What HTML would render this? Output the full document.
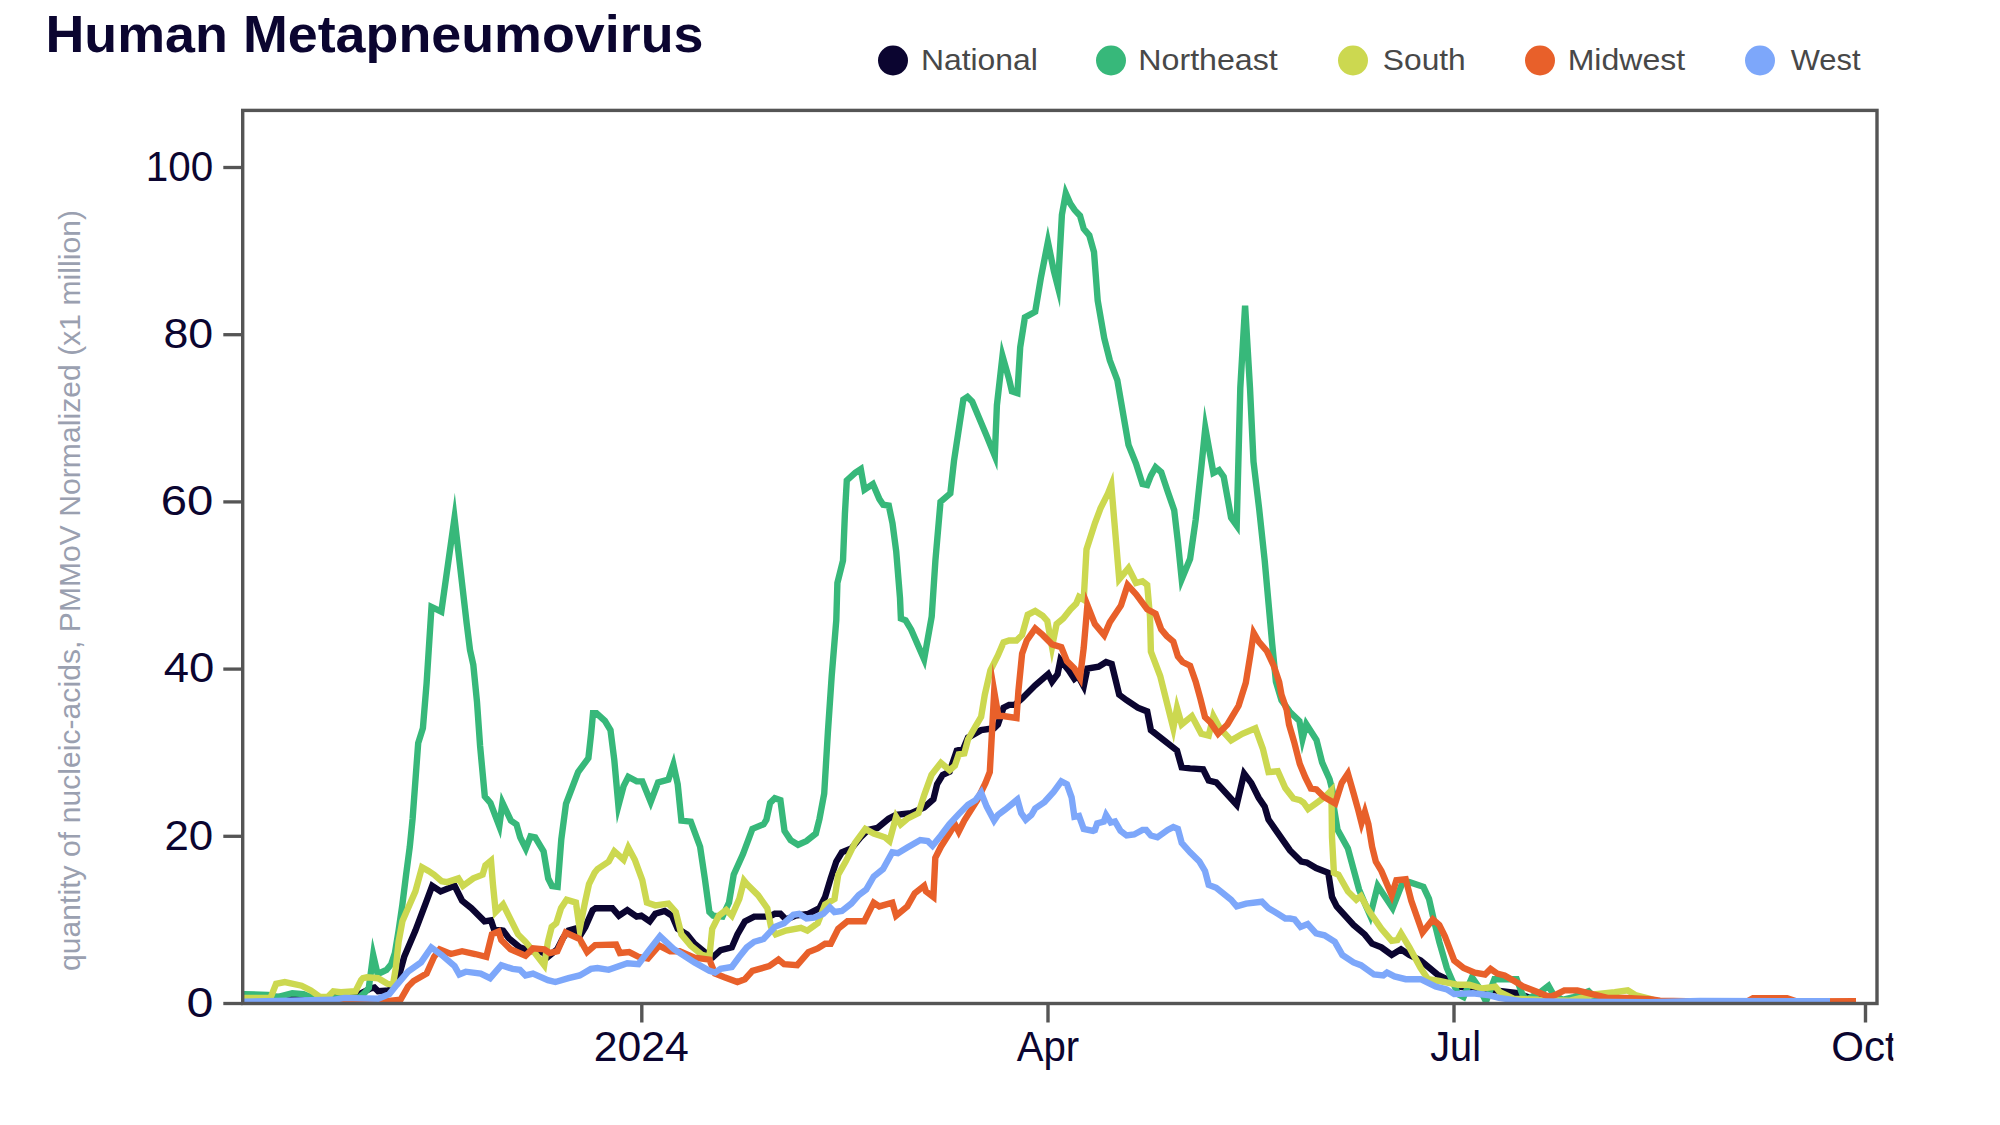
<!DOCTYPE html>
<html><head><meta charset="utf-8"><title>Human Metapneumovirus</title>
<style>
html,body{margin:0;padding:0;background:#fff;}
body{width:2000px;height:1125px;overflow:hidden;font-family:"Liberation Sans",sans-serif;}
svg{display:block;position:absolute;left:0;top:0;}
svg text{font-family:"Liberation Sans",sans-serif;}
</style></head><body>
<svg width="2000" height="1125" viewBox="0 0 2000 1125">
<defs><clipPath id="cp"><rect x="243" y="110" width="1634" height="894"/></clipPath><clipPath id="cs"><rect x="0" y="0" width="1893.3" height="1125"/></clipPath></defs>
<text x="45.51" y="52.0" font-size="51.6" fill="#0b0530" textLength="657.98" lengthAdjust="spacingAndGlyphs" font-weight="bold">Human Metapneumovirus</text>

<circle cx="893" cy="60.5" r="15" fill="#0b0530"/><text x="920.93" y="70.0" font-size="30" fill="#484848" textLength="116.92" lengthAdjust="spacingAndGlyphs">National</text>
<circle cx="1111" cy="60.5" r="15" fill="#37b87a"/><text x="1138.30" y="70.0" font-size="30" fill="#484848" textLength="139.51" lengthAdjust="spacingAndGlyphs">Northeast</text>
<circle cx="1353" cy="60.5" r="15" fill="#ccd850"/><text x="1382.88" y="70.0" font-size="30" fill="#484848" textLength="82.85" lengthAdjust="spacingAndGlyphs">South</text>
<circle cx="1540" cy="60.5" r="15" fill="#e8602a"/><text x="1567.70" y="70.0" font-size="30" fill="#484848" textLength="117.43" lengthAdjust="spacingAndGlyphs">Midwest</text>
<circle cx="1760" cy="60.5" r="15" fill="#7da7fa"/><text x="1790.69" y="70.0" font-size="30" fill="#484848" textLength="69.84" lengthAdjust="spacingAndGlyphs">West</text>

<text transform="translate(79.5,971) rotate(-90)" font-size="30" fill="#9aa0b0" textLength="761" lengthAdjust="spacing">quantity of nucleic-acids, PMMoV Normalized (x1 million)</text>
<g clip-path="url(#cp)">
<path d="M243.7,1000.7 L277.3,997.0 L314.7,999.8 L359.4,994.1 L370.6,988.5 L374.4,987.6 L378.1,991.3 L389.3,990.4 L398.6,977.3 L404.2,956.8 L415.4,930.6 L426.6,900.8 L432.2,885.8 L440.6,891.4 L454.6,885.8 L462.1,900.8 L471.4,908.2 L484.5,921.3 L491.0,920.4 L493.8,928.8 L503.1,930.6 L508.7,938.1 L519.9,947.4 L531.1,951.2 L542.3,952.1 L547.9,956.8 L557.3,949.3 L562.9,938.1 L568.5,930.6 L575.0,928.8 L579.7,936.2 L585.3,926.9 L592.7,910.1 L595.6,908.2 L612.4,908.2 L618.9,915.7 L627.3,910.1 L636.7,916.6 L641.3,915.7 L649.7,921.3 L655.3,913.8 L664.7,911.0 L672.1,915.7 L677.7,928.8 L687.0,934.4 L694.5,943.7 L705.7,953.0 L713.2,956.8 L720.6,950.2 L731.8,947.4 L737.4,934.4 L744.9,921.3 L754.2,916.6 L769.2,916.6 L774.8,913.8 L780.4,913.8 L786.0,919.4 L795.3,915.7 L808.4,913.8 L819.5,908.2 L825.1,897.0 L830.7,878.4 L836.3,861.6 L841.9,852.3 L851.3,848.5 L860.6,837.3 L868.1,829.9 L877.4,828.0 L888.6,818.7 L896.1,814.9 L911.0,813.1 L924.1,807.5 L933.4,799.2 L937.1,784.2 L942.7,774.9 L949.6,771.7 L956.8,750.6 L963.3,748.8 L968.0,737.6 L981.1,730.1 L994.1,728.2 L997.9,724.5 L1003.5,707.7 L1009.1,704.9 L1014.7,704.9 L1022.1,698.4 L1035.2,685.3 L1048.2,674.1 L1052.0,681.6 L1057.6,674.1 L1060.4,660.1 L1068.8,670.4 L1074.4,678.8 L1078.1,676.0 L1083.7,686.3 L1087.4,668.5 L1098.6,666.7 L1106.1,662.0 L1111.7,663.9 L1119.2,694.7 L1126.6,700.2 L1137.8,707.7 L1147.2,711.4 L1150.9,730.1 L1177.0,750.6 L1181.7,767.4 L1190.1,768.4 L1203.1,769.3 L1208.7,780.5 L1216.2,782.4 L1236.7,804.8 L1244.1,773.5 L1251.2,782.9 L1258.7,797.8 L1264.7,806.6 L1268.5,819.7 L1290.0,850.4 L1301.2,861.6 L1306.8,862.5 L1316.1,868.1 L1328.3,872.8 L1332.0,897.0 L1336.7,906.4 L1353.5,925.0 L1364.7,934.4 L1372.1,943.7 L1381.4,947.4 L1391.7,954.9 L1401.0,949.3 L1409.4,954.9 L1420.6,960.5 L1437.4,974.5 L1448.6,980.1 L1458.0,986.6 L1495.3,990.4 L1517.7,993.2 L1532.6,998.8 L1569.9,1001.1 L1600.0,1002.5 L1856.0,1002.5" fill="none" stroke="#0b0530" stroke-width="6.4" stroke-linejoin="miter" stroke-miterlimit="12"/>
<path d="M243.7,994.1 L268.0,995.0 L277.3,997.0 L292.3,993.2 L303.5,994.1 L314.7,998.8 L359.4,997.5 L364.5,993.0 L368.8,988.0 L373.2,955.0 L377.6,974.0 L382.0,972.0 L386.5,970.0 L391.2,964.2 L394.9,953.0 L398.6,930.6 L402.4,904.5 L406.1,874.7 L409.8,846.7 L412.6,818.7 L416.4,767.3 L418.2,743.0 L422.9,728.1 L426.6,683.3 L431.5,606.9 L441.3,611.6 L454.5,518.0 L466.7,623.6 L470.0,650.0 L473.3,664.7 L477.0,702.0 L480.1,746.0 L484.8,796.4 L490.4,802.9 L499.3,826.2 L502.5,802.9 L510.9,820.6 L516.5,824.4 L520.2,837.4 L525.8,848.6 L530.5,836.5 L535.2,837.4 L543.6,851.4 L548.2,878.5 L552.0,886.0 L557.6,886.9 L561.3,839.3 L566.0,803.8 L578.1,772.1 L588.4,758.1 L591.2,732.9 L593.0,713.3 L596.5,713.3 L604.9,720.8 L610.5,730.1 L614.3,760.0 L618.4,805.7 L623.6,786.1 L628.3,776.8 L636.7,781.4 L642.3,781.4 L650.7,802.0 L658.1,782.4 L668.4,779.6 L673.4,764.6 L677.7,784.2 L681.4,820.6 L690.8,821.6 L700.1,846.7 L704.8,878.4 L709.4,912.0 L713.2,915.7 L722.5,916.6 L729.0,902.6 L733.7,874.7 L743.0,854.1 L752.4,828.9 L763.6,824.3 L766.4,819.7 L770.1,802.9 L774.8,798.2 L780.4,800.1 L784.5,830.9 L790.6,840.1 L798.1,844.8 L806.5,841.1 L815.8,833.6 L819.5,818.7 L824.2,793.6 L827.9,732.0 L831.7,676.0 L836.3,620.0 L837.4,583.0 L843.0,560.6 L844.9,514.0 L846.8,480.4 L855.2,472.9 L860.8,469.2 L864.5,489.7 L872.9,484.1 L879.4,499.1 L883.2,504.7 L888.8,505.6 L892.5,523.3 L896.2,551.3 L900.0,598.0 L900.9,618.5 L905.6,620.4 L911.2,629.7 L924.1,659.2 L931.7,616.6 L935.4,560.6 L940.5,501.9 L950.3,493.5 L954.0,460.8 L963.3,399.7 L967.5,396.9 L972.2,401.6 L986.7,436.1 L994.8,456.0 L996.9,405.3 L1002.5,355.9 L1009.1,379.2 L1011.9,391.3 L1017.4,393.2 L1020.2,347.3 L1024.9,317.4 L1035.2,311.8 L1040.8,278.2 L1047.9,241.9 L1053.8,270.8 L1057.9,286.8 L1061.9,214.8 L1065.8,193.3 L1070.3,203.6 L1074.7,210.1 L1080.0,215.7 L1083.7,228.8 L1089.3,235.3 L1094.0,252.1 L1097.7,300.6 L1104.2,338.0 L1109.8,360.4 L1117.3,380.0 L1128.5,444.9 L1136.0,463.6 L1142.5,484.1 L1147.2,485.1 L1150.9,475.7 L1155.6,467.3 L1161.2,472.0 L1167.7,491.6 L1174.2,510.2 L1177.9,542.0 L1181.7,579.3 L1190.1,558.8 L1195.7,519.6 L1201.3,467.3 L1205.3,428.0 L1213.4,472.9 L1219.0,470.1 L1223.7,476.7 L1227.4,497.2 L1231.1,517.7 L1236.7,525.6 L1240.3,388.0 L1245.1,305.7 L1250.0,388.0 L1253.5,461.7 L1259.1,508.4 L1264.7,560.6 L1272.2,644.0 L1275.9,681.6 L1281.5,700.2 L1289.7,711.7 L1299.4,721.0 L1302.5,739.0 L1306.3,724.1 L1316.5,740.0 L1322.1,762.4 L1329.6,779.2 L1333.3,794.1 L1333.9,807.5 L1337.6,829.9 L1347.9,848.5 L1353.5,869.1 L1359.1,889.6 L1363.7,900.8 L1370.2,915.7 L1377.7,885.8 L1392.6,908.2 L1402.0,884.0 L1409.4,882.1 L1423.4,886.8 L1429.0,898.9 L1433.7,919.4 L1439.3,941.8 L1446.8,968.0 L1452.4,981.0 L1458.0,994.1 L1463.6,997.0 L1472.0,977.3 L1478.5,986.6 L1486.0,1001.6 L1494.4,979.2 L1516.7,979.2 L1522.3,994.1 L1526.1,999.8 L1540.1,992.2 L1548.5,985.7 L1553.1,994.1 L1562.5,999.8 L1573.7,997.0 L1588.6,991.3 L1596.1,998.8 L1625.9,1000.7 L1700.0,1002.5 L1856.0,1002.5" fill="none" stroke="#37b87a" stroke-width="6.4" stroke-linejoin="miter" stroke-miterlimit="12"/>
<path d="M243.7,997.9 L270.5,997.9 L276.1,983.8 L284.8,982.0 L301.6,985.7 L310.9,990.4 L320.2,997.0 L327.7,997.0 L333.3,991.3 L340.8,992.2 L355.5,991.3 L361.1,980.1 L362.9,978.2 L366.9,977.3 L378.1,978.2 L387.4,983.8 L393.0,984.8 L395.8,968.0 L398.6,941.8 L402.4,921.3 L408.0,908.2 L415.4,891.4 L422.0,867.2 L428.5,870.9 L434.1,874.7 L441.6,881.2 L447.2,882.1 L458.4,878.4 L463.0,885.8 L473.3,878.4 L482.6,874.7 L485.4,865.3 L491.0,860.7 L492.9,884.0 L495.7,912.0 L503.1,904.5 L510.6,919.4 L518.1,934.4 L525.5,941.8 L534.9,953.0 L544.2,965.2 L547.9,941.8 L551.7,926.9 L556.3,923.2 L561.0,908.2 L566.6,899.8 L575.9,902.6 L579.7,928.8 L585.3,900.8 L589.0,884.0 L594.6,872.8 L597.5,869.1 L608.7,861.6 L614.3,851.3 L623.6,859.7 L628.3,847.6 L634.8,859.7 L642.3,880.2 L646.9,902.6 L655.3,905.4 L668.4,903.6 L675.8,912.0 L681.4,934.4 L690.8,945.6 L702.0,954.9 L709.4,956.8 L712.2,928.8 L718.8,915.7 L726.2,910.1 L731.8,915.7 L739.3,898.9 L744.0,880.6 L746.8,884.0 L758.0,895.2 L767.3,908.2 L771.0,926.9 L775.7,934.4 L786.0,930.6 L800.9,927.8 L807.4,930.6 L817.7,923.2 L825.1,904.5 L834.5,898.9 L838.2,874.7 L845.7,861.6 L855.0,842.9 L865.3,828.9 L873.7,833.6 L884.9,837.3 L889.5,841.1 L896.1,816.8 L900.7,824.3 L907.3,818.7 L918.5,813.1 L924.1,795.4 L931.5,774.9 L940.9,762.8 L949.6,770.2 L954.9,765.6 L958.7,754.4 L964.3,753.4 L968.0,739.4 L975.5,726.4 L981.1,717.0 L984.8,694.7 L990.4,670.4 L997.9,655.5 L1003.5,642.4 L1009.1,640.5 L1016.5,640.5 L1022.1,634.9 L1027.7,614.8 L1035.2,611.0 L1042.6,615.7 L1047.3,621.0 L1052.0,647.0 L1056.6,624.0 L1063.2,618.5 L1070.6,609.2 L1076.2,603.6 L1079.0,597.0 L1083.7,599.8 L1086.5,549.4 L1094.9,523.3 L1100.5,508.4 L1108.0,493.5 L1111.3,485.1 L1114.5,523.3 L1119.2,579.3 L1128.5,568.1 L1136.0,583.0 L1142.5,581.2 L1147.2,584.9 L1150.0,616.6 L1150.9,651.7 L1160.2,676.0 L1165.8,698.4 L1173.3,728.2 L1177.0,708.1 L1181.7,724.5 L1191.9,716.1 L1201.3,733.8 L1208.7,735.7 L1213.4,716.1 L1219.9,728.2 L1231.1,740.4 L1242.3,733.8 L1255.4,728.2 L1262.9,748.8 L1268.5,772.1 L1277.8,771.2 L1285.3,788.0 L1293.4,798.5 L1300.0,800.1 L1303.5,802.5 L1308.1,809.0 L1318.4,801.6 L1325.8,796.0 L1331.4,790.4 L1332.0,837.3 L1333.9,872.8 L1338.5,874.7 L1347.9,891.4 L1356.3,899.8 L1360.9,896.1 L1368.4,910.1 L1381.4,928.8 L1391.7,940.9 L1397.3,940.0 L1401.0,933.4 L1409.4,947.4 L1420.6,968.0 L1428.1,979.2 L1439.3,981.0 L1448.6,982.9 L1458.0,984.8 L1469.2,984.8 L1482.2,988.5 L1495.3,986.6 L1500.0,992.2 L1514.0,998.8 L1569.9,1000.7 L1596.1,994.1 L1614.7,992.2 L1627.8,990.4 L1635.3,995.0 L1650.0,998.8 L1660.0,1002.0 L1856.0,1002.5" fill="none" stroke="#ccd850" stroke-width="6.4" stroke-linejoin="miter" stroke-miterlimit="12"/>
<path d="M243.7,1002.2 L381.8,1001.6 L400.5,999.8 L408.0,986.6 L413.6,981.0 L426.6,973.6 L434.1,956.8 L439.7,949.3 L450.9,954.0 L462.1,951.2 L475.1,954.0 L486.3,956.8 L491.9,934.4 L498.5,931.6 L501.3,940.0 L510.6,949.3 L525.5,955.8 L533.0,948.4 L544.2,949.3 L549.8,953.0 L557.3,951.2 L565.7,932.5 L579.7,939.0 L587.1,952.1 L595.1,945.1 L616.1,944.6 L619.9,953.0 L629.2,952.1 L638.5,956.8 L647.9,958.6 L659.1,945.6 L670.2,951.2 L679.6,951.2 L694.5,957.7 L709.4,959.6 L715.0,973.6 L724.4,977.3 L737.4,982.0 L744.9,979.2 L752.4,970.8 L769.2,966.1 L778.5,959.6 L784.1,964.2 L797.2,965.2 L808.4,952.1 L817.7,948.4 L825.1,943.7 L830.7,943.7 L838.2,928.8 L847.5,921.3 L864.3,921.3 L873.7,902.6 L879.3,906.4 L892.3,902.6 L896.1,915.7 L907.3,906.4 L914.7,893.3 L924.1,885.8 L925.9,891.4 L933.4,897.0 L935.3,857.9 L940.9,846.7 L949.3,833.6 L954.9,824.3 L958.7,831.7 L964.3,820.5 L977.3,800.0 L985.5,783.0 L989.8,772.0 L994.2,691.5 L998.4,716.0 L1003.2,716.0 L1016.5,718.0 L1018.4,690.9 L1022.1,653.6 L1026.8,640.5 L1035.2,628.4 L1042.6,634.9 L1052.0,644.3 L1061.3,647.1 L1066.9,661.1 L1074.4,668.5 L1080.0,677.9 L1083.7,648.0 L1087.4,605.1 L1094.9,624.1 L1104.2,635.3 L1109.8,622.2 L1121.0,605.4 L1127.6,584.9 L1136.0,594.2 L1147.2,609.2 L1155.6,613.8 L1161.2,629.3 L1166.7,635.9 L1173.3,641.5 L1177.9,656.4 L1182.6,662.0 L1190.1,665.7 L1195.7,681.6 L1200.3,698.4 L1205.0,717.0 L1210.6,722.6 L1218.1,733.8 L1227.4,724.5 L1238.6,705.8 L1245.8,682.8 L1250.5,653.9 L1253.7,632.9 L1258.9,641.8 L1266.8,651.0 L1273.8,666.0 L1279.2,682.1 L1281.5,694.7 L1286.7,710.1 L1289.0,724.5 L1294.1,741.8 L1299.8,764.0 L1305.3,777.3 L1310.9,788.5 L1316.5,789.4 L1324.0,796.9 L1335.2,803.4 L1341.7,782.9 L1347.9,773.6 L1353.8,794.1 L1358.2,810.0 L1361.5,823.0 L1364.9,812.0 L1368.4,824.3 L1372.1,846.7 L1375.8,861.6 L1381.4,870.9 L1391.7,895.2 L1396.4,880.2 L1405.7,879.3 L1411.3,900.8 L1422.5,932.5 L1432.8,919.4 L1439.3,925.0 L1444.9,936.2 L1454.2,960.5 L1463.6,968.0 L1474.8,972.6 L1485.0,974.5 L1490.6,968.9 L1497.2,973.6 L1504.6,975.4 L1517.7,982.9 L1523.3,986.6 L1538.2,992.2 L1549.4,997.0 L1555.0,995.0 L1564.3,990.4 L1577.4,990.4 L1592.3,994.1 L1607.3,997.9 L1625.9,997.9 L1650.0,999.2 L1660.0,1000.6 L1700.0,1001.5 L1747.0,1001.5 L1753.0,998.2 L1787.0,998.2 L1797.0,1001.5 L1856.0,1001.3" fill="none" stroke="#e8602a" stroke-width="6.4" stroke-linejoin="miter" stroke-miterlimit="12"/>
<path d="M243.7,1001.6 L333.3,999.8 L344.5,997.9 L378.1,998.8 L389.3,994.1 L396.8,984.8 L408.0,971.7 L421.0,962.4 L431.3,947.4 L441.6,954.9 L454.6,966.1 L459.3,974.5 L465.8,971.7 L480.7,973.6 L490.1,978.2 L501.3,965.2 L512.5,968.9 L519.9,969.8 L525.5,975.4 L533.0,973.6 L547.9,980.1 L555.4,982.0 L568.5,978.2 L579.7,975.4 L590.9,968.9 L597.5,968.0 L608.7,969.8 L627.3,963.3 L638.5,964.2 L649.7,949.3 L660.0,936.2 L674.0,949.3 L694.5,962.4 L709.4,970.8 L715.0,972.6 L720.6,968.9 L731.8,967.0 L739.3,956.8 L746.8,947.4 L754.2,941.8 L763.6,939.0 L774.8,926.9 L784.1,923.2 L793.4,914.8 L799.0,913.8 L806.5,918.5 L814.0,917.6 L823.3,913.8 L829.8,907.3 L834.5,912.0 L841.9,911.0 L851.3,903.6 L858.7,895.2 L866.2,889.6 L873.7,876.5 L883.0,869.1 L892.3,852.3 L897.9,853.2 L907.3,847.6 L920.3,840.1 L927.8,841.1 L932.5,845.7 L940.9,835.5 L949.3,824.3 L958.7,814.1 L968.0,804.8 L975.5,800.1 L981.1,792.6 L986.7,806.6 L994.1,820.6 L997.9,815.0 L1005.3,809.4 L1017.4,799.5 L1021.2,813.2 L1025.8,819.7 L1031.4,815.0 L1035.2,808.5 L1044.5,802.0 L1053.8,791.7 L1061.3,781.4 L1066.9,784.2 L1071.6,797.3 L1074.4,816.8 L1079.0,815.9 L1083.7,828.9 L1093.0,830.8 L1094.9,830.0 L1097.2,823.3 L1103.8,821.5 L1106.1,815.0 L1110.8,822.5 L1115.0,821.5 L1120.5,830.9 L1126.6,835.5 L1134.1,834.5 L1142.5,829.9 L1146.2,829.9 L1150.9,835.5 L1157.4,837.3 L1167.7,829.9 L1173.3,827.1 L1177.9,828.9 L1181.7,842.9 L1190.1,852.3 L1199.4,861.6 L1205.0,870.9 L1208.7,884.9 L1216.2,887.7 L1225.5,895.2 L1231.1,899.8 L1236.7,906.4 L1246.1,903.6 L1261.9,901.7 L1268.5,908.2 L1277.8,913.8 L1285.3,918.5 L1290.0,918.5 L1294.6,919.4 L1300.6,926.9 L1307.7,924.1 L1316.1,933.4 L1324.5,935.3 L1334.8,941.8 L1342.3,954.9 L1353.5,962.4 L1360.9,965.2 L1374.0,974.5 L1383.3,975.4 L1387.0,972.6 L1394.5,976.4 L1405.7,979.2 L1420.6,979.2 L1435.6,986.6 L1446.8,989.4 L1454.2,994.1 L1472.9,993.2 L1487.8,995.0 L1499.0,997.9 L1521.4,1001.1 L1569.9,1001.8 L1650.0,1002.2 L1700.0,1001.0 L1830.0,1001.3" fill="none" stroke="#7da7fa" stroke-width="6.4" stroke-linejoin="miter" stroke-miterlimit="12"/>
</g>
<rect x="242.7" y="110.4" width="1634.3" height="893.1" fill="none" stroke="#555" stroke-width="3.4"/>
<line x1="223.3" x2="242.7" y1="1003.5" y2="1003.5" stroke="#555" stroke-width="3.3"/><text x="186.52" y="1016.8" font-size="42.3" fill="#0b0530" textLength="26.92" lengthAdjust="spacingAndGlyphs">0</text>
<line x1="223.3" x2="242.7" y1="836.3" y2="836.3" stroke="#555" stroke-width="3.3"/><text x="164.41" y="849.6" font-size="42.3" fill="#0b0530" textLength="48.80" lengthAdjust="spacingAndGlyphs">20</text>
<line x1="223.3" x2="242.7" y1="669.1" y2="669.1" stroke="#555" stroke-width="3.3"/><text x="163.66" y="682.4" font-size="42.3" fill="#0b0530" textLength="50.61" lengthAdjust="spacingAndGlyphs">40</text>
<line x1="223.3" x2="242.7" y1="501.9" y2="501.9" stroke="#555" stroke-width="3.3"/><text x="160.81" y="515.2" font-size="42.3" fill="#0b0530" textLength="52.57" lengthAdjust="spacingAndGlyphs">60</text>
<line x1="223.3" x2="242.7" y1="334.7" y2="334.7" stroke="#555" stroke-width="3.3"/><text x="163.49" y="348.0" font-size="42.3" fill="#0b0530" textLength="49.75" lengthAdjust="spacingAndGlyphs">80</text>
<line x1="223.3" x2="242.7" y1="167.5" y2="167.5" stroke="#555" stroke-width="3.3"/><text x="145.68" y="180.8" font-size="42.3" fill="#0b0530" textLength="67.44" lengthAdjust="spacingAndGlyphs">100</text>

<g clip-path="url(#cs)">
<line x1="641.8" x2="641.8" y1="1003.5" y2="1022.5" stroke="#555" stroke-width="3.4"/><text x="593.73" y="1060.6" font-size="42.3" fill="#0b0530" textLength="95.10" lengthAdjust="spacingAndGlyphs">2024</text>
<line x1="1048" x2="1048" y1="1003.5" y2="1022.5" stroke="#555" stroke-width="3.4"/><text x="1016.72" y="1060.6" font-size="42.3" fill="#0b0530" textLength="62.53" lengthAdjust="spacingAndGlyphs">Apr</text>
<line x1="1454" x2="1454" y1="1003.5" y2="1022.5" stroke="#555" stroke-width="3.4"/><text x="1430.20" y="1060.6" font-size="42.3" fill="#0b0530" textLength="50.78" lengthAdjust="spacingAndGlyphs">Jul</text>
<line x1="1865.5" x2="1865.5" y1="1003.5" y2="1022.5" stroke="#555" stroke-width="3.4"/><text x="1831.20" y="1060.6" font-size="42.3" fill="#0b0530" textLength="65.50" lengthAdjust="spacingAndGlyphs">Oct</text>

</g>
</svg>
</body></html>
